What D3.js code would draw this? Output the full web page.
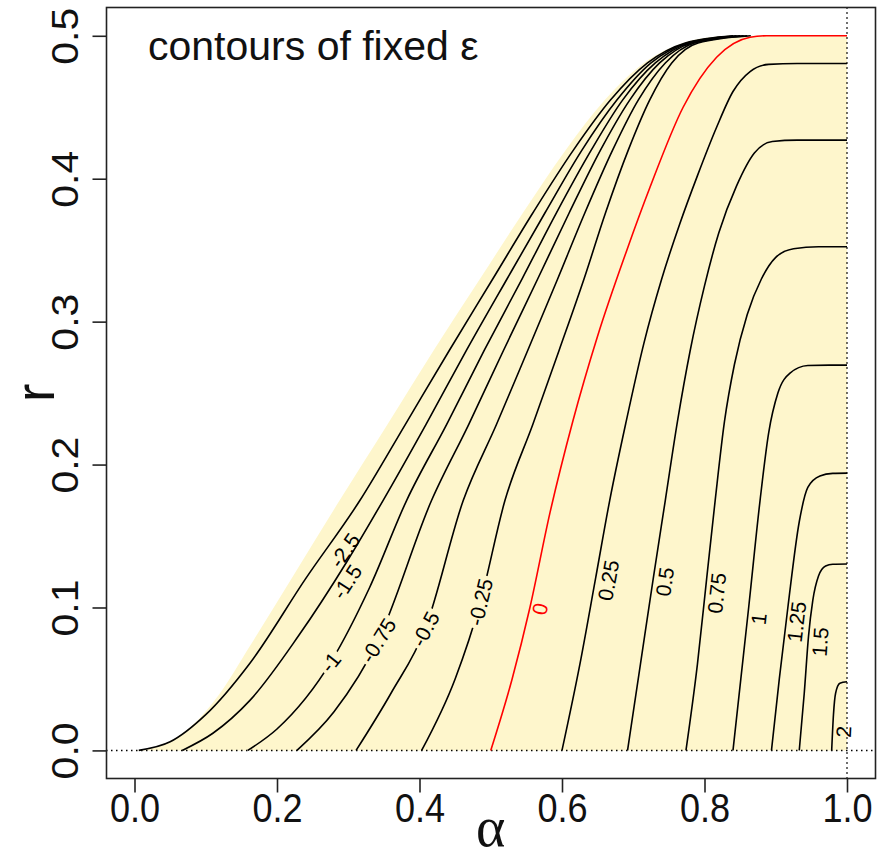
<!DOCTYPE html>
<html><head><meta charset="utf-8">
<script src="https://cdn.jsdelivr.net/npm/d3@7"></script>
<style>body{margin:0;background:#fff}svg{display:block}</style>
</head><body><svg id="c" width="886" height="859"></svg>
<script>
// ---- data (alpha, r) ----
const xTicks = [0, 0.2, 0.4, 0.6, 0.8, 1.0];
const yTicks = [0, 0.1, 0.2, 0.3, 0.4, 0.5];

const boundary = [[0,0],[0.04,0.004],[0.08,0.017],[0.12,0.04],[0.162,0.073],[0.225,0.124],[0.288,0.175],[0.355,0.228],[0.42,0.28],[0.485,0.33],[0.545,0.376],[0.605,0.42],[0.66,0.455],[0.715,0.481],[0.77,0.495],[0.83,0.5]];

const levels      = [-2.5, -1.5, -1, -0.75, -0.5, -0.25, 0, 0.25, 0.5, 0.75, 1, 1.25, 1.5, 2];
const levelLabels = ["-2.5","-1.5","-1","-0.75","-0.5","-0.25","0","0.25","0.5","0.75","1","1.25","1.5","2"];
const labelAlpha  = [0.295, 0.298, 0.277, 0.342, 0.408, 0.492, 0.569, 0.665, 0.744, 0.817, 0.876, 0.929, 0.962, 0.995];
const labelR      = [0.140, 0.118, 0.061, 0.077, 0.085, 0.103, 0.099, 0.119, 0.118, 0.110, 0.092, 0.090, 0.076, 0.013];

const cM2_5 = [[0.006,0],[0.05,0.006],[0.1,0.025],[0.162,0.061],[0.24,0.12],[0.3165,0.175],[0.38,0.228],[0.442,0.28],[0.503,0.33],[0.559,0.376],[0.616,0.42],[0.668,0.455],[0.72,0.481],[0.773,0.495],[0.84,0.5]];
const cM1_5 = [[0.067,0],[0.11,0.012],[0.162,0.035],[0.23,0.08],[0.298,0.132],[0.349,0.175],[0.409,0.228],[0.466,0.28],[0.523,0.33],[0.576,0.376],[0.628,0.42],[0.677,0.455],[0.725,0.481],[0.776,0.495],[0.845,0.5]];
const cM1   = [[0.159,0],[0.2,0.015],[0.277,0.063],[0.33,0.114],[0.382,0.175],[0.438,0.228],[0.491,0.28],[0.544,0.33],[0.592,0.376],[0.641,0.42],[0.685,0.455],[0.731,0.481],[0.779,0.495],[0.85,0.5]];
const cM0_75= [[0.228,0],[0.28,0.027],[0.342,0.077],[0.417,0.175],[0.469,0.228],[0.518,0.28],[0.566,0.33],[0.61,0.376],[0.654,0.42],[0.695,0.455],[0.737,0.481],[0.782,0.495],[0.855,0.5]];
const cM0_5 = [[0.311,0],[0.36,0.04],[0.408,0.085],[0.4615,0.175],[0.508,0.228],[0.552,0.28],[0.594,0.33],[0.632,0.376],[0.671,0.42],[0.707,0.455],[0.745,0.481],[0.786,0.495],[0.86,0.5]];
const cM0_25= [[0.403,0],[0.45,0.05],[0.485,0.103],[0.52,0.175],[0.559,0.228],[0.596,0.28],[0.631,0.33],[0.661,0.376],[0.693,0.42],[0.723,0.455],[0.754,0.481],[0.791,0.495],[0.865,0.5]];
const c0    = [[0.5,0],[0.53,0.05],[0.555,0.1],[0.583,0.166],[0.615,0.23],[0.65,0.29],[0.691,0.35],[0.7235,0.394],[0.77,0.45],[0.817,0.485],[0.864,0.499],[0.887,0.5],[1,0.5]];
const c0_25 = [[0.6,0],[0.625,0.06],[0.647,0.12],[0.667,0.175],[0.69,0.23],[0.715,0.285],[0.74,0.33],[0.765,0.368],[0.79,0.402],[0.817,0.436],[0.84,0.461],[0.864,0.475],[0.89,0.48],[0.93,0.4806],[1,0.4806]];
const c0_5  = [[0.692,0],[0.71,0.06],[0.728,0.12],[0.745,0.175],[0.762,0.23],[0.78,0.28],[0.8,0.325],[0.82,0.362],[0.845,0.395],[0.87,0.418],[0.895,0.426],[0.93,0.427],[1,0.427]];
const c0_75 = [[0.774,0],[0.79,0.06],[0.803,0.12],[0.815,0.175],[0.828,0.23],[0.842,0.27],[0.86,0.305],[0.88,0.33],[0.9,0.345],[0.925,0.351],[0.96,0.3524],[1,0.3524]];
const c1    = [[0.84,0],[0.851,0.05],[0.862,0.1],[0.878,0.175],[0.89,0.222],[0.903,0.25],[0.92,0.264],[0.945,0.2693],[0.975,0.2696],[1,0.2696]];
const c1_25 = [[0.894,0],[0.905,0.05],[0.917,0.1],[0.933,0.16],[0.945,0.184],[0.962,0.192],[0.98,0.1938],[1,0.194]];
const c1_5  = [[0.933,0],[0.94,0.04],[0.946,0.08],[0.952,0.105],[0.96,0.122],[0.97,0.129],[0.98,0.1302],[1,0.1304]];
const c2    = [[0.9785,0],[0.981,0.025],[0.984,0.04],[0.99,0.047],[1,0.048]];

const contourData = [cM2_5, cM1_5, cM1, cM0_75, cM0_5, cM0_25, c0, c0_25, c0_5, c0_75, c1, c1_25, c1_5, c2];

// ---- drawing ----
const W = 886, H = 859;
const svg = d3.select("#c");
const x = d3.scaleLinear().domain([-0.04, 1.04]).range([106, 875.5]);
const y = d3.scaleLinear().domain([-0.02, 0.52]).range([779, 7.2]);
const fillColor = "#FEF6CC";
const font = "Liberation Sans, Arial, sans-serif";

const line = d3.line().x(d => x(d[0])).y(d => y(d[1])).curve(d3.curveMonotoneX);

// shaded feasible region
const bPath = line(boundary) + `L${x(1)},${y(0.5)}L${x(1)},${y(0)}Z`;
svg.append("path").attr("d", bPath).attr("fill", fillColor).attr("stroke", "none");

// dotted reference lines
svg.append("line").attr("x1", x(-0.04)).attr("x2", x(1.04)).attr("y1", y(0)).attr("y2", y(0))
  .attr("stroke", "#000").attr("stroke-width", 1.5).attr("stroke-dasharray", "1.5,3.5");
svg.append("line").attr("x1", x(1)).attr("x2", x(1)).attr("y1", y(0.52)).attr("y2", y(-0.02))
  .attr("stroke", "#000").attr("stroke-width", 1.5).attr("stroke-dasharray", "1.5,3.5");

const defs = svg.append("defs");
const lineLayer = svg.append("g");
const labelLayer = svg.append("g");

contourData.forEach((pts, i) => {
  const col = levels[i] === 0 ? "#FF0000" : "#000";
  const sp = pts.map(p => [x(p[0]), y(p[1])]);
  let lx = x(labelAlpha[i]), ly = y(labelR[i]);
  let best = null;
  for (let k = 0; k < sp.length - 1; k++) {
    const [ax, ay] = sp[k], [bx, by] = sp[k + 1];
    const dx = bx - ax, dy = by - ay;
    const t = Math.max(0, Math.min(1, ((lx - ax) * dx + (ly - ay) * dy) / (dx * dx + dy * dy)));
    const px = ax + t * dx, py = ay + t * dy;
    const dist = Math.hypot(px - lx, py - ly);
    if (!best || dist < best.dist) best = {dist, px, py, ang: Math.atan2(dy, dx) * 180 / Math.PI};
  }
  if (best.dist < 8) { lx = best.px; ly = best.py; }
  const ang = best.ang;
  const g = labelLayer.append("g").attr("transform", `translate(${lx},${ly}) rotate(${ang})`);
  const t = g.append("text").text(levelLabels[i])
    .attr("text-anchor", "middle").attr("dy", "0.36em")
    .attr("font-family", font).attr("font-size", 21)
    .attr("fill", col);
  const w = t.node().getComputedTextLength() + 6;
  const m = defs.append("mask").attr("id", "m" + i).attr("maskUnits", "userSpaceOnUse")
    .attr("x", 0).attr("y", 0).attr("width", W).attr("height", H);
  m.append("rect").attr("x", 0).attr("y", 0).attr("width", W).attr("height", H).attr("fill", "#fff");
  m.append("rect").attr("transform", `translate(${lx},${ly}) rotate(${ang})`)
    .attr("x", -w / 2).attr("y", -8).attr("width", w).attr("height", 16).attr("fill", "#000");
  lineLayer.append("path").attr("d", line(pts)).attr("fill", "none")
    .attr("stroke", col).attr("stroke-width", 1.6).attr("mask", `url(#m${i})`);
});

// box
svg.append("rect").attr("x", 106.5).attr("y", 7.5).attr("width", 769).attr("height", 771)
  .attr("fill", "none").attr("stroke", "#222").attr("stroke-width", 1.6);

// axes
const xAxis = svg.append("g").attr("transform", `translate(0,${778.5})`)
  .call(d3.axisBottom(x).tickValues(xTicks).tickFormat(d3.format(".1f")).tickSize(14).tickPadding(0));
xAxis.select(".domain").remove();
xAxis.selectAll("line").attr("stroke", "#222").attr("stroke-width", 1.6);
xAxis.selectAll("text").attr("y", 44).attr("dy", null)
  .attr("font-family", font).attr("font-size", 41)
  .attr("fill", "#111").attr("transform", "scale(0.88,1)");

const yAxis = svg.append("g").attr("transform", `translate(106.5,0)`)
  .call(d3.axisLeft(y).tickValues(yTicks).tickFormat(d3.format(".1f")).tickSize(14).tickPadding(0));
yAxis.select(".domain").remove();
yAxis.selectAll("line").attr("stroke", "#222").attr("stroke-width", 1.6);
yAxis.selectAll("text").attr("x", 0).attr("y", -29 / 0.88).attr("dy", null)
  .attr("text-anchor", "middle")
  .attr("font-family", font).attr("font-size", 41)
  .attr("fill", "#111").attr("transform", "rotate(-90) scale(1,0.88)");

// titles
svg.append("text").attr("x", 148).attr("y", 60).text("contours of fixed ε")
  .attr("font-family", font).attr("font-size", 41).attr("fill", "#111");
svg.append("text").attr("x", 490.7).attr("y", 846).attr("text-anchor", "middle").text("α")
  .attr("font-family", "Liberation Serif, Times New Roman, serif").attr("font-size", 56).attr("fill", "#111");
svg.append("text").attr("transform", "translate(54,393) rotate(-90)").attr("text-anchor", "middle").text("r")
  .attr("font-family", font).attr("font-size", 56).attr("fill", "#111");
</script></body></html>
